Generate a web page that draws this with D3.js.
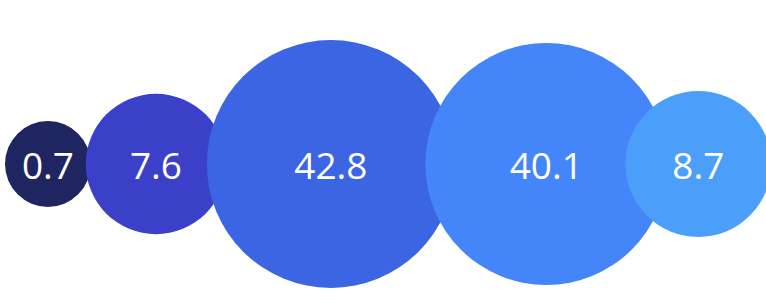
<!DOCTYPE html>
<html>
<head>
<meta charset="utf-8">
<script src="https://cdn.jsdelivr.net/npm/d3@7"></script>
<style>
  body { margin: 0; background: #ffffff; }
  svg { display: block; }
</style>
</head>
<body>
<div id="chart"></div>
<script>
// data
var labels = ["0.7", "7.6", "42.8", "40.1", "8.7"];
var values = [0.7, 7.6, 42.8, 40.1, 8.7];
var colors = ["#1f2561", "#3b40c9", "#3c65e3", "#4585fa", "#4b9efa"];

var width = 766, height = 306;
var centerY = 164;
var leftPad = 5;

var svg = d3.select("#chart").append("svg")
            .attr("width", width)
            .attr("height", height);

// radius scale (sqrt, with a minimum size)
var r = d3.scaleSqrt()
          .domain([0, d3.max(values)])
          .range([31, 124]);

// chain the bubbles left to right, each one overlapping the previous a bit more
var xs = [];
values.forEach(function(v, i){
  if(i == 0){
    xs.push(leftPad + r(v));
  } else {
    var overlap = 5 + 12.3 * (i - 1);
    xs.push(xs[i-1] + r(values[i-1]) + r(v) - overlap - (i == 2 ? 2 : 0));
  }
});

var bubble = svg.selectAll("g.bubble")
                .data(values)
               .enter()
                .append("g")
                .attr("class", "bubble");

bubble.append("circle")
      .attr("cx", function(d, i){ return xs[i]; })
      .attr("cy", centerY)
      .attr("r", function(d){ return r(d); })
      .style("fill", function(d, i){ return colors[i]; });

bubble.append("text")
      .attr("x", function(d, i){ return xs[i]; })
      .attr("y", centerY)
      .attr("text-anchor", "middle")
      .attr("dominant-baseline", "central")
      .style("font-family", "'Open Sans', sans-serif")
      .style("font-weight", 500)
      .style("font-size", "37px")
      .style("fill", "#ffffff")
      .text(function(d, i){ return labels[i]; });
</script>
</body>
</html>
